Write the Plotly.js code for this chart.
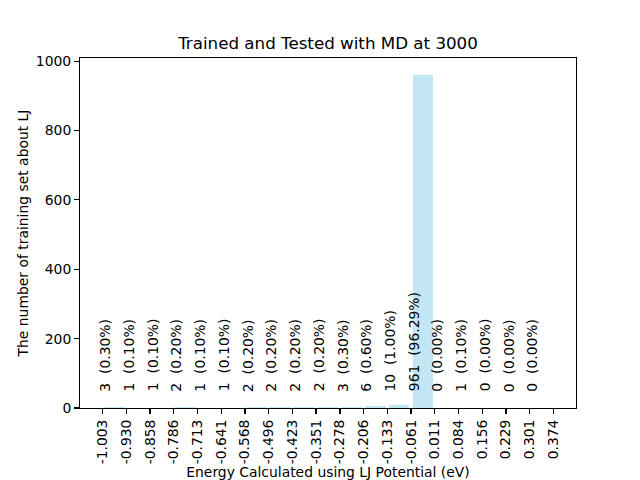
<!DOCTYPE html>
<html>
<head>
<meta charset="utf-8">
<script src="https://cdn.plot.ly/plotly-3.0.1.min.js"></script>
<style>html,body{margin:0;padding:0;background:#fff;}#chart{width:640px;height:480px;}</style>
</head>
<body>
<div id="chart"></div>
<script>
// Bin edges (tick labels) of the histogram
var edgeLabels = ["-1.003","-0.930","-0.858","-0.786","-0.713","-0.641","-0.568","-0.496","-0.423","-0.351","-0.278","-0.206","-0.133","-0.061","0.011","0.084","0.156","0.229","0.301","0.374"];
// Counts in each bin
var counts = [3,1,1,2,1,1,2,2,2,2,3,6,10,961,0,1,0,0,0];
// Percentages as printed
var percents = ["0.30","0.10","0.10","0.20","0.10","0.10","0.20","0.20","0.20","0.20","0.30","0.60","1.00","96.29","0.00","0.10","0.00","0.00","0.00"];
var labelY = 50;

var edges = edgeLabels.map(Number);
var centers = [], widths = [];
for (var i = 0; i < counts.length; i++) {
  centers.push((edges[i] + edges[i+1]) / 2);
  widths.push((edges[i+1] - edges[i]) * 0.85);
}
var span = edges[edges.length-1] - edges[0];
var xr = [edges[0] - 0.05*span, edges[edges.length-1] + 0.05*span];
var ymax = Math.max.apply(null, counts) * 1.05;

var font = "DejaVu Sans, sans-serif";
var annotations = [];
for (var j = 0; j < counts.length; j++) {
  annotations.push({
    x: edges[j], y: labelY, xref: 'x', yref: 'y',
    text: counts[j] + ' \u00a0(' + percents[j] + '%)',
    textangle: -90, showarrow: false,
    xanchor: 'center', yanchor: 'bottom', xshift: 3, yshift: -2,
    borderpad: 0,
    font: {family: font, size: 13.9, color: '#000'}
  });
}

var trace = {
  type: 'bar', x: centers, y: counts, width: widths,
  marker: {color: 'rgba(135,206,235,0.5)', line: {width: 0}},
  hoverinfo: 'x+y'
};

var layout = {
  width: 640, height: 480,
  margin: {l: 80, r: 64, t: 57.6, b: 72, pad: 0},
  paper_bgcolor: '#fff', plot_bgcolor: '#fff',
  showlegend: false,
  font: {family: font, size: 13.9, color: '#000'},
  title: {text: 'Trained and Tested with MD at 3000', font: {family: font, size: 16.7, color: '#000'},
          x: 0.5, xref: 'paper', y: 1 - 43/480, yref: 'container', yanchor: 'middle'},
  xaxis: {
    range: xr, tickmode: 'array', tickvals: edges, ticktext: edgeLabels, tickangle: -90,
    ticks: 'outside', ticklen: 4.9, tickwidth: 1.1, tickcolor: '#000',
    showgrid: false, zeroline: false, showline: true, linecolor: '#000', linewidth: 1.1, mirror: true,
    automargin: false,
    tickfont: {family: font, size: 13.9, color: '#000'},
    title: {text: 'Energy Calculated using LJ Potential (eV)', font: {family: font, size: 13.9, color: '#000'}, standoff: 8}
  },
  yaxis: {
    range: [0, ymax], tickmode: 'array', tickvals: [0,200,400,600,800,1000],
    ticks: 'outside', ticklen: 4.9, tickwidth: 1.1, tickcolor: '#000',
    showgrid: false, zeroline: false, showline: true, linecolor: '#000', linewidth: 1.1, mirror: true,
    automargin: false,
    tickfont: {family: font, size: 13.9, color: '#000'},
    title: {text: 'The number of training set about LJ', font: {family: font, size: 13.9, color: '#000'}, standoff: 4}
  },
  annotations: annotations,
  bargap: 0
};

Plotly.newPlot('chart', [trace], layout, {displayModeBar: false, staticPlot: true});
</script>
</body>
</html>
